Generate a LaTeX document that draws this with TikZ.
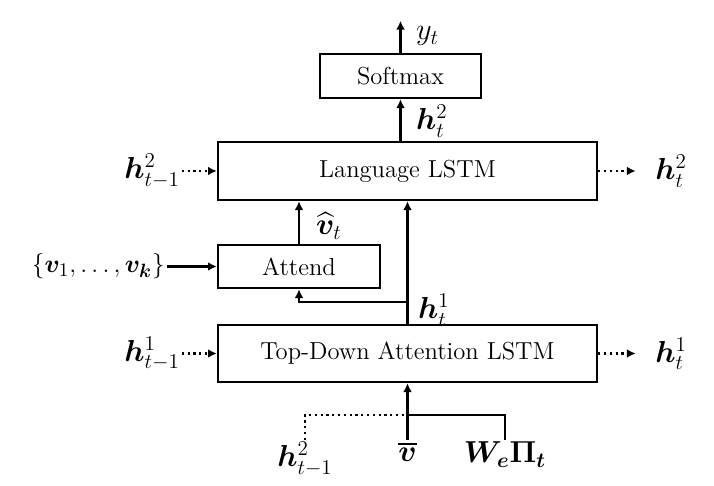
\documentclass[tikz,border=0pt]{standalone}
\usepackage{amsmath,bm}
\usetikzlibrary{arrows.meta,positioning}

\begin{document}
\begin{tikzpicture}[
  x=0.02cm, y=-0.02cm,
  font=\fontsize{14}{16}\selectfont,
  block/.style={draw, line width=1.4pt, inner sep=0pt, align=center},
  lbl/.style={inner sep=1pt, font=\fontsize{18}{20}\selectfont},
  arr/.style={-{Latex[length=5pt,width=5pt]}, line width=1.3pt},
  dotarr/.style={-{Latex[length=5pt,width=5pt]}, line width=1.3pt, dotted},
  wire/.style={line width=1.3pt},
  dotwire/.style={line width=1.3pt, dotted},
]

  \useasboundingbox (0,0) rectangle (714,486);

  % Blocks
  \node[block, minimum width=3.22cm, minimum height=0.88cm] (soft) at (400.5,76)    {Softmax};
  \node[block, minimum width=7.58cm, minimum height=1.16cm] (lang) at (407.5,171)   {Language LSTM};
  \node[block, minimum width=3.24cm, minimum height=0.86cm] (att)  at (299,266.5)   {Attend};
  \node[block, minimum width=7.58cm, minimum height=1.14cm] (td)   at (407.5,353.5) {Top-Down Attention LSTM};

  % Labels
  \node[lbl, anchor=west] (yt)   at (414,36)  {$y_t$};
  \node[lbl, anchor=west] (h2up) at (414,121) {$\bm{h}^2_t$};
  \node[lbl, left=0.7cm of lang]  (h2l) {$\bm{h}^2_{t-1}$};
  \node[lbl, right=1.1cm of lang] (h2r) {$\bm{h}^2_t$};
  \node[lbl, anchor=west] (vhat) at (314,226) {$\widehat{\bm{v}}_t$};
  \node[lbl, left=1.0cm of att, font=\fontsize{15}{17}\selectfont] (vset) {$\{\bm{v}_1, \dots, \bm{v}_{\bm{k}}\}$};
  \node[lbl, anchor=west] (h1up) at (416,310) {$\bm{h}^1_t$};
  \node[lbl, left=0.7cm of td]    (h1l) {$\bm{h}^1_{t-1}$};
  \node[lbl, right=1.1cm of td]   (h1r) {$\bm{h}^1_t$};
  \node[lbl, anchor=north] (h2b)  at (305,440) {$\bm{h}^2_{t-1}$};
  \node[lbl, anchor=north] (vbar) at (407.5,440) {$\overline{\bm{v}}$};
  \node[lbl, anchor=north] (wepi) at (505,440) {$\bm{W_e\Pi_t}$};

  % Helper coordinates
  \coordinate (ytop)  at ([yshift=0.64cm]soft.north);
  \coordinate (split) at ([yshift=0.44cm]td.north);
  \coordinate (join)  at ([yshift=0.5cm]vbar.north);

  % Arrows
  \draw[arr] (soft.north) -- (ytop);
  \draw[arr] (soft.south |- lang.north) -- (soft.south);
  \draw[dotarr] (h2l) -- (lang);
  \draw[dotarr, shorten >=0.35cm] (lang) -- (h2r);
  \draw[arr] (att.north) -- (att.north |- lang.south);
  \draw[arr] (vset) -- (att);
  \draw[arr] (td.north) -- (lang.south);
  \draw[arr] (split) -| (att.south);
  \draw[dotarr] (h1l) -- (td);
  \draw[dotarr, shorten >=0.35cm] (td) -- (h1r);

  % Inputs of the attention LSTM
  \draw[arr] (vbar.north) -- (td.south);
  \draw[dotwire] (h2b.north) |- (join);
  \draw[wire] (wepi.north) |- (join);

\end{tikzpicture}
\end{document}
